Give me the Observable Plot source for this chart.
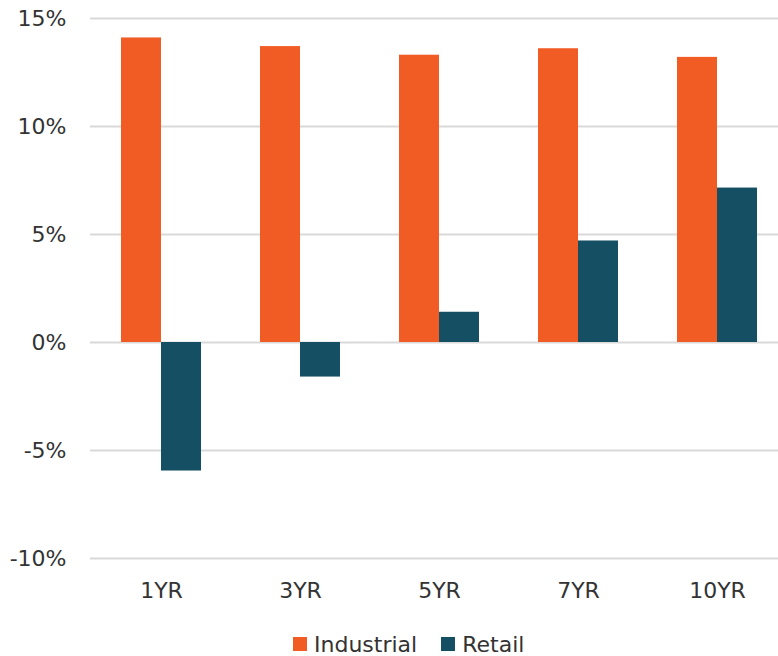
<!DOCTYPE html>
<html>
<head>
<meta charset="utf-8">
<script src="https://cdn.jsdelivr.net/npm/d3@7"></script>
<script src="https://cdn.jsdelivr.net/npm/@observablehq/plot@0.6"></script>
<style>
  body { margin: 0; background: #fff; font-family: "DejaVu Sans", sans-serif; }
  #chart svg { overflow: visible; display: block; }
  .legend { display: flex; align-items: center; height: 64px; padding-left: 293px; font-size: 22px; color: #333; }
  .legend .item { display: flex; align-items: center; margin-right: 24px; }
  .legend .sw { width: 14px; height: 14px; margin-right: 7px; }
</style>
</head>
<body>
<div id="chart"></div>
<script>
// Annualized returns by holding period
const periods = ["1YR", "3YR", "5YR", "7YR", "10YR"];
const sectors = ["Industrial", "Retail"];
const industrial = [14.1, 13.7, 13.3, 13.6, 13.2];
const retail = [-5.95, -1.6, 1.4, 4.7, 7.15];
const yTicks = [-10, -5, 0, 5, 10, 15];
const colors = ["#F15B24", "#154F64"];

const rows = periods.flatMap((p, i) => [
  {period: p, sector: sectors[0], value: industrial[i]},
  {period: p, sector: sectors[1], value: retail[i]}
]);

const fmt = d => `${d}%`;
const half = 40; // half of each period's band: Industrial left, Retail right

const chart = Plot.plot({
  width: 778,
  height: 612,
  marginLeft: 90,
  marginRight: -9,
  marginTop: 18,
  marginBottom: 54,
  style: {fontFamily: "'DejaVu Sans', sans-serif", fontSize: "22px", color: "#333", background: "#fff"},
  x: {domain: periods, paddingInner: 0.426, paddingOuter: 0.213, label: null},
  y: {domain: [-10, 15], label: null},
  color: {domain: sectors, range: colors},
  marks: [
    Plot.ruleY(yTicks, {stroke: "#d9d9d9", strokeWidth: 2}),
    Plot.barY(rows.filter(d => d.sector === sectors[0]), {x: "period", y: "value", fill: "sector", insetRight: half}),
    Plot.barY(rows.filter(d => d.sector === sectors[1]), {x: "period", y: "value", fill: "sector", insetLeft: half}),
    Plot.axisY({ticks: yTicks, tickFormat: fmt, tickSize: 0, tickPadding: 24, label: null, fill: "#333"}),
    Plot.axisX({tickSize: 0, tickPadding: 24, label: null, fill: "#333"})
  ]
});

document.getElementById("chart").append(chart);

// Legend below the chart
const legend = document.createElement("div");
legend.className = "legend";
sectors.forEach((s, i) => {
  const item = document.createElement("div");
  item.className = "item";
  const sw = document.createElement("span");
  sw.className = "sw";
  sw.style.background = colors[i];
  const label = document.createElement("span");
  label.textContent = s;
  item.append(sw, label);
  legend.append(item);
});
document.body.append(legend);
</script>
</body>
</html>
